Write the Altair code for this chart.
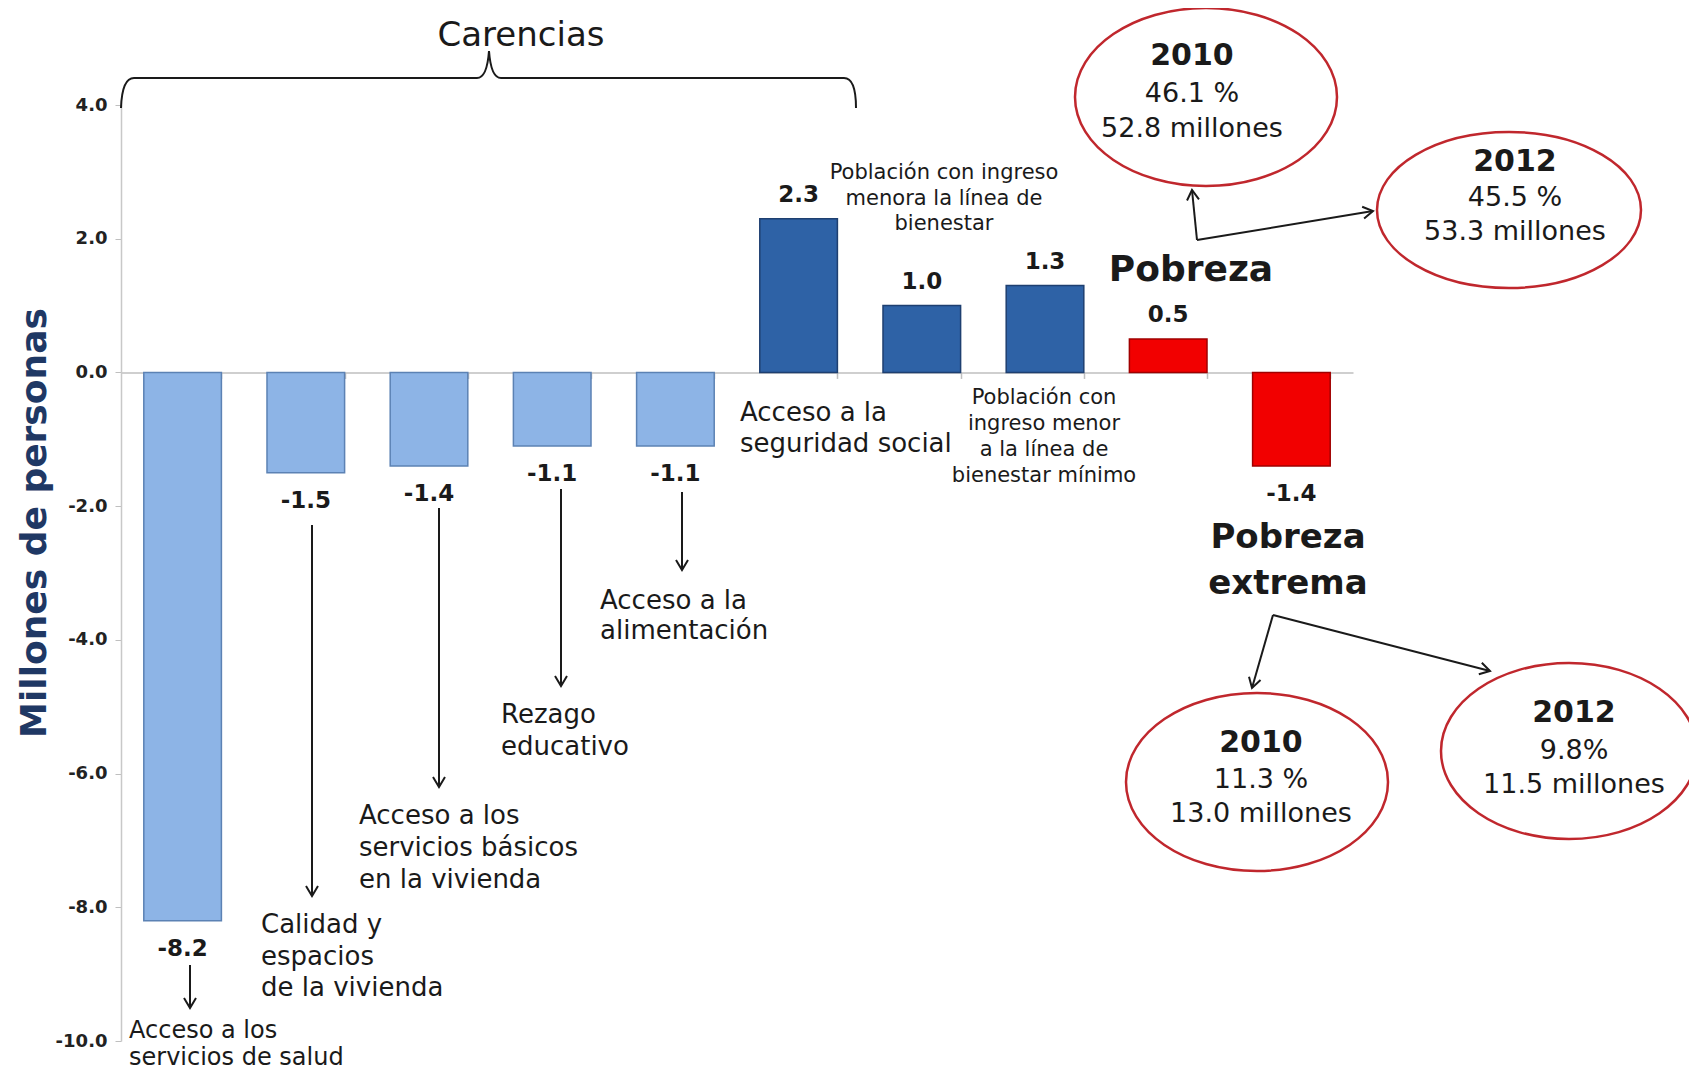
import math
import altair as alt
import pandas as pd

# ---------------- data ----------------
categories = [
    "Acceso a los servicios de salud",
    "Calidad y espacios de la vivienda",
    "Acceso a los servicios básicos en la vivienda",
    "Rezago educativo",
    "Acceso a la alimentación",
    "Acceso a la seguridad social",
    "Población con ingreso menor a la línea de bienestar",
    "Población con ingreso menor a la línea de bienestar mínimo",
    "Pobreza",
    "Pobreza extrema",
]
values = [-8.2, -1.5, -1.4, -1.1, -1.1, 2.3, 1.0, 1.3, 0.5, -1.4]
groups = ["disminuye"] * 5 + ["aumenta"] * 3 + ["pobreza"] * 2
value_labels = ["-8.2", "-1.5", "-1.4", "-1.1", "-1.1", "2.3", "1.0", "1.3", "0.5", "-1.4"]

y_ticks = [4, 2, 0, -2, -4, -6, -8, -10]

pobreza_2010 = ["2010", "46.1 %", "52.8 millones"]
pobreza_2012 = ["2012", "45.5 %", "53.3 millones"]
extrema_2010 = ["2010", "11.3 %", "13.0 millones"]
extrema_2012 = ["2012", "9.8%", "11.5 millones"]

df = pd.DataFrame({"cat": categories, "value": values, "grp": groups, "lab": value_labels})
one = pd.DataFrame({"k": [0]})

# ---------------- layout ----------------
OX, OY = 121, 105          # plot origin on page
W, H = 1232, 936
YMIN, YMAX = -10, 4
FONT = "DejaVu Sans, Verdana, sans-serif"
BLACK = "#1a1a1a"
RED = "#C0272D"


def px(x):
    return x - OX


def py(y):
    return y - OY


def text(lines, x, y, size, align="left", weight="normal", lh=None, color=BLACK, font=FONT, angle=0):
    """y is the centre of the first line."""
    if isinstance(lines, str):
        lines = [lines]
    lh = lh or size * 1.2
    kw = dict(text=lines if len(lines) > 1 else lines[0], align=align, baseline="middle",
              fontSize=size, fontWeight=weight, font=font, color=color, lineHeight=lh)
    if angle:
        kw["angle"] = angle
    return alt.Chart(one).mark_text(**kw).encode(x=alt.value(px(x)), y=alt.value(py(y)))


def shape(path, x, y, color=BLACK, sw=2.0):
    return alt.Chart(one).mark_point(shape=path, size=4, filled=False, stroke=color,
                                     strokeWidth=sw, opacity=1).encode(
        x=alt.value(px(x)), y=alt.value(py(y)))


def arrow(x1, y1, x2, y2, head=True):
    layers = [alt.Chart(one).mark_rule(color=BLACK, strokeWidth=2).encode(
        x=alt.value(px(x1)), y=alt.value(py(y1)), x2=alt.value(px(x2)), y2=alt.value(py(y2)))]
    if head:
        ang = math.degrees(math.atan2(x2 - x1, -(y2 - y1))) % 360
        layers.append(alt.Chart(one).mark_point(
            shape="M -6 10 L 0 0 L 6 10", size=4, filled=False, stroke=BLACK, strokeWidth=2,
            angle=ang, opacity=1).encode(x=alt.value(px(x2)), y=alt.value(py(y2))))
    return layers


def ellipse(cx, cy, rx, ry):
    path = f"M {-rx} 0 A {rx} {ry} 0 1 0 {rx} 0 A {rx} {ry} 0 1 0 {-rx} 0 Z"
    return shape(path, cx, cy, color=RED, sw=2.5)


def bubble(lines, cx, cy, rx, ry, tx, ty):
    return [ellipse(cx, cy, rx, ry),
            text(lines[0], tx, ty[0], 30, align="center", weight="bold"),
            text(lines[1], tx, ty[1], 27, align="center"),
            text(lines[2], tx, ty[2], 27, align="center")]


# ---------------- bars ----------------
zero_offset = -(H * (0 - YMIN) / (YMAX - YMIN))

x_enc = alt.X("cat:N", sort=categories,
              scale=alt.Scale(paddingInner=0.37, paddingOuter=0.185),
              axis=alt.Axis(orient="bottom", offset=zero_offset, labels=False, title=None,
                            domainColor="#BFBFBF", domainWidth=1.5, tickColor="#BFBFBF",
                            tickWidth=1.5, tickSize=6, tickBand="extent"))
y_enc = alt.Y("value:Q", scale=alt.Scale(domain=[YMIN, YMAX], nice=False),
              axis=alt.Axis(values=y_ticks, title=None, grid=False,
                            labelExpr="(datum.value < 0 ? '-' : '') + format(abs(datum.value), '.1f')",
                            labelFont=FONT, labelFontSize=18, labelFontWeight="bold",
                            labelColor="#222222", labelPadding=8, tickSize=6,
                            tickColor="#BFBFBF", domainColor="#C8C8C8", domainWidth=1.5))

bars = alt.Chart(df).mark_bar(strokeWidth=1.5).encode(
    x=x_enc, y=y_enc,
    color=alt.Color("grp:N", scale=alt.Scale(domain=["disminuye", "aumenta", "pobreza"],
                                             range=["#8DB4E6", "#2E62A6", "#F20000"]), legend=None),
    stroke=alt.Stroke("grp:N", scale=alt.Scale(domain=["disminuye", "aumenta", "pobreza"],
                                               range=["#5C82B4", "#1E3F70", "#A00000"]), legend=None),
)

lab_kw = dict(font=FONT, fontSize=23, fontWeight="bold", color=BLACK, baseline="middle")
pos_labels = alt.Chart(df).transform_filter("datum.value > 0").mark_text(dy=-24, **lab_kw).encode(
    x=alt.X("cat:N", sort=categories), y="value:Q", text="lab:N")
neg_labels = alt.Chart(df).transform_filter("datum.value < 0").mark_text(dy=28, **lab_kw).encode(
    x=alt.X("cat:N", sort=categories), y="value:Q", text="lab:N")

layers = [bars, pos_labels, neg_labels]

# y-axis title
layers.append(text("Millones de personas", 35, 523, 36, align="center", weight="bold",
                   color="#1F3864", angle=270))

# brace + "Carencias"
brace = ("M -368 30 Q -367 0 -355 0 L -12 0 Q -2 0 0 -27 "
         "M 0 -27 Q 2 0 12 0 L 355 0 Q 367 0 367 30")
layers.append(shape(brace, 489, 78, sw=2))
layers.append(text("Carencias", 521, 36, 34, align="center"))

# category annotations
layers.append(text(["Acceso a los", "servicios de salud"], 129, 1031, 24, lh=27))
layers.append(text(["Calidad y", "espacios", "de la vivienda"], 261, 925, 26, lh=31.5))
layers.append(text(["Acceso a los", "servicios básicos", "en la vivienda"], 359, 816, 26, lh=32))
layers.append(text(["Rezago", "educativo"], 501, 715, 26, lh=32))
layers.append(text(["Acceso a la", "alimentación"], 600, 601, 26, lh=30))
layers.append(text(["Acceso a  la", "seguridad social"], 740, 413, 26, lh=31))
layers.append(text(["Población con ingreso", "menora la línea de", "bienestar"], 944, 173, 21,
                   align="center", lh=25.5))
layers.append(text(["Población con", "ingreso menor", "a la línea de", "bienestar mínimo"],
                   1044, 398, 21, align="center", lh=26))
layers.append(text("Pobreza", 1191, 270, 36, align="center", weight="bold"))
layers.append(text(["Pobreza", "extrema"], 1288, 538, 34, align="center", weight="bold", lh=46))

# arrows under the deprivation bars
for a in [(190, 965, 190, 1008), (312, 525, 312, 896), (439, 508, 439, 787),
          (561, 489, 561, 686), (682, 492, 682, 570)]:
    layers += arrow(*a)

# poverty arrows
layers += arrow(1197, 240, 1192, 190)
layers += arrow(1197, 240, 1373, 211)
layers += arrow(1273, 615, 1252, 688)
layers += arrow(1273, 615, 1490, 671)

# bubbles
layers += bubble(pobreza_2010, 1206, 97, 131, 89, 1192, (56, 94, 129))
layers += bubble(pobreza_2012, 1509, 210, 132, 78, 1515, (162, 198, 232))
layers += bubble(extrema_2010, 1257, 782, 131, 89, 1261, (743, 780, 814))
layers += bubble(extrema_2012, 1569, 751, 128, 88, 1574, (713, 751, 785))

chart = alt.layer(*layers).properties(
    width=W, height=H,
    autosize=alt.AutoSizeParams(type="none"),
    padding={"left": OX - 8, "top": OY - 8, "right": 1697 - 16 - OX - W + 8, "bottom": 32},
).configure_view(stroke=None)

chart.save("out.html", embed_options={"renderer": "svg", "actions": False})
